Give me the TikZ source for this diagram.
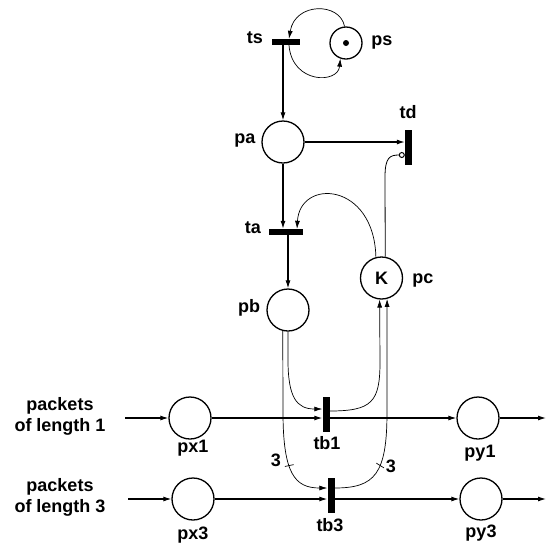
\documentclass[tikz,border=0pt]{standalone}
\usepackage{fontspec}
\setmainfont{Liberation Sans}
\usetikzlibrary{arrows.meta,calc}
\begin{document}
\begin{tikzpicture}[x=1pt,y=-1pt,
  every node/.style={font=\fontsize{18}{21}\selectfont\bfseries},
  place/.style={circle, draw, line width=1.3pt, minimum size=42pt, inner sep=0pt},
  hbar/.style={fill=black, minimum width=30pt, minimum height=6pt, inner sep=0pt},
  vbar/.style={fill=black, minimum width=7pt, minimum height=35pt, inner sep=0pt},
  arc/.style={line width=1.1pt, -{Latex[length=8pt,width=5pt]}},
  thinarc/.style={line width=0.7pt, -{Latex[length=8pt,width=5pt]}},
  tick/.style={draw, line width=0.7pt, inner sep=0pt, minimum width=9pt, minimum height=0pt},
  lbl/.style={inner sep=0pt},
]
\useasboundingbox (0,0) rectangle (547,547);
% transitions and places
\node[hbar, minimum width=28pt] (ts) at (286,42) {};
\node[place, minimum size=32pt] (ps) at (346,43) {};
\node[circle, fill, inner sep=0pt, minimum size=6pt] (tok) at (346,43) {};
\node[place] (pa) at (283,142) {};
\node[vbar] (td) at (408.5,147.5) {};
\node[hbar, minimum width=34pt] (ta) at (286,232) {};
\node[place] (pb) at (288,310) {};
\node[place] (pc) at (381.5,278) {K};
\node[vbar] (tb1) at (326,414) {};
\node[vbar] (tb3) at (331,495) {};
\node[place] (px1) at (190,418) {};
\node[place] (py1) at (478,418) {};
\node[place] (px3) at (193,499) {};
\node[place] (py3) at (481,499) {};
% labels
\node[lbl] (lts) at (255,38) {ts};
\node[lbl] (lps) at (382,43) {ps};
\node[lbl] (lpa) at (245,141) {pa};
\node[lbl] (ltd) at (408,112) {td};
\node[lbl] (lta) at (253,228) {ta};
\node[lbl] (lpb) at (249,308) {pb};
\node[lbl] (lpc) at (423,281) {pc};
\node[lbl] (ltb1) at (327,443) {tb1};
\node[lbl] (ltb3) at (330,525) {tb3};
\node[lbl] (lpx1) at (193,448) {px1};
\node[lbl] (lpx3) at (193,535) {px3};
\node[lbl] (lpy1) at (480,453) {py1};
\node[lbl] (lpy3) at (481,533) {py3};
\node[lbl] (w1) at (276,460) {3};
\node[lbl] (w2) at (391,466) {3};
\node[lbl, align=center] (in1text) at (60,416) {packets\\of length 1};
\node[lbl, align=center] (in3text) at (60,497) {packets\\of length 3};
% free ends
\coordinate (in1) at (125,418);
\coordinate (in3) at (128,499);
\coordinate (out1) at (546,418);
\coordinate (out3) at (546,499);
% rows
\draw[arc] (in1) -- (px1);
\draw[arc] (px1) -- (px1 -| tb1.west);
\draw[arc] (tb1.east |- px1) -- (py1);
\draw[arc] (py1) -- (out1);
\draw[arc] (in3) -- (px3);
\draw[arc] (px3) -- (px3 -| tb3.west);
\draw[arc] (tb3.east |- px3) -- (py3);
\draw[arc] (py3) -- (out3);
% top loop
\draw[thinarc] (ps.95) .. controls (340,2) and (295,2) .. ($(ts.north)+(3,0)$);
\draw[thinarc] ($(ts.south)+(3,0)$) .. controls (292,84) and (338,84) .. (ps.-110);
% main column
\draw[arc] (ts.south -| pa) -- (pa);
\draw[arc] (pa) -- (pa -| td.west);
\draw[arc] (pa) -- (pa |- ta.north);
\draw[arc] (ta.south -| pb) -- (pb);
\draw[thinarc] (pc.105) .. controls (374,182) and (300,178) .. ($(ta.north)+(11,0)$);
\draw[line width=0.8pt, -{Circle[open,length=6pt,line width=1pt]}] (pc.80) -- (385,177) .. controls (385,157) and (390,155) .. ($(td.west)+(0,7.5)$);
% pb / pc to tb1, tb3
\draw[thinarc] (pb.south) -- (288,360) .. controls (288,398) and (297,409) .. ($(tb1.west)+(0,-5)$);
\draw[thinarc] ($(tb1.east)+(0,-3)$) .. controls (372,411) and (380,402) .. (380,362) -- (pc.-95);
\draw[thinarc] (pb.-104) -- (283,412) .. controls (283,474) and (295,488) .. ($(tb3.west)+(0,-7)$) node[tick, pos=0.4, rotate=12] {};
\draw[thinarc] ($(tb3.east)+(0,-7)$) .. controls (375,488) and (387,474) .. (387,412) node[tick, pos=0.6, rotate=-32] {} -- (pc.-75);
\end{tikzpicture}
\end{document}
